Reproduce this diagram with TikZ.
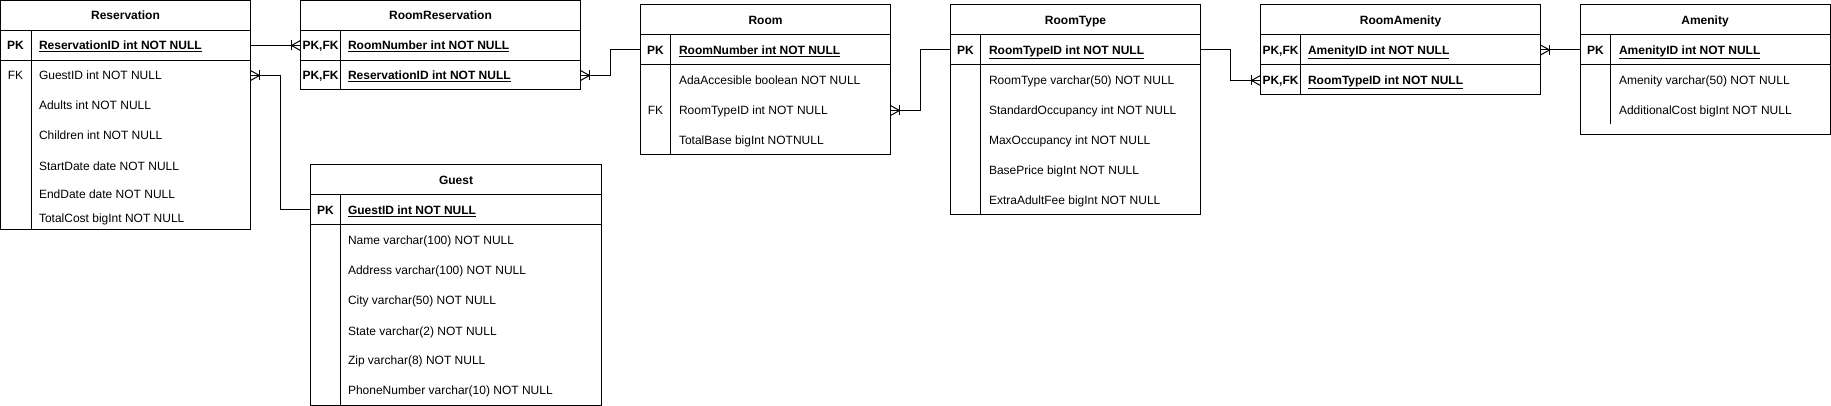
\documentclass[tikz,border=0pt]{standalone}
\usepackage{fontspec}
\setmainfont{Liberation Sans}
\begin{document}
\begin{tikzpicture}[x=1pt,y=-1pt,line width=1pt,
  font=\fontsize{12}{14}\selectfont,
  tbl/.style={draw,rectangle,anchor=north west,inner sep=0pt,outer sep=0pt},
  txt/.style={inner sep=0pt,outer sep=0pt,text height=8.6pt,text depth=0pt},
  hd/.style={txt,font=\fontsize{12}{14}\selectfont\bfseries},
  ky/.style={txt},
  kb/.style={txt,font=\fontsize{12}{14}\selectfont\bfseries},
  fd/.style={txt,anchor=west},
  pk/.style={fd,font=\fontsize{12}{14}\selectfont\bfseries},
  crow/.pic={\draw (0,-5) -- (-9,0) -- (0,5); \draw (-9,-5) -- (-9,5);}
]
\useasboundingbox (0,0) rectangle (1831,406);

% Reservation
\node[tbl,minimum width=250pt,minimum height=229.5pt] (Res) at (0.5,0.5) {};
\draw (0.5,30.5) -- (250.5,30.5); \draw (0.5,60.5) -- (250.5,60.5); \draw (31,30.5) -- (31,230);
\node[hd] (resT) at (125.5,15.5) {Reservation};
\node[kb] (resK1) at (15.5,45.5) {PK};
\node[pk] (resID) at (39,45.5) {\underline{ReservationID int NOT NULL}};
\node[ky] (resK2) at (15.5,75.5) {FK};
\node[fd] (resGuest) at (39,75.5) {GuestID int NOT NULL};
\node[fd] (resA) at (39,105) {Adults int NOT NULL};
\node[fd] (resC) at (39,135.5) {Children int NOT NULL};
\node[fd] (resS) at (39,166) {StartDate date NOT NULL};
\node[fd] (resE) at (39,194) {EndDate date NOT NULL};
\node[fd] (resTC) at (39,218.5) {TotalCost bigInt NOT NULL};

% RoomReservation
\node[tbl,minimum width=280pt,minimum height=89.5pt] (RR) at (300.5,0.5) {};
\draw (300.5,30.5) -- (580.5,30.5); \draw (300.5,60.5) -- (580.5,60.5); \draw (340.5,30.5) -- (340.5,90);
\node[hd] (rrT) at (440.5,15.5) {RoomReservation};
\node[kb] (rrK1) at (320.5,45.5) {PK,FK};
\node[pk] (rrNum) at (348,45.5) {\underline{RoomNumber int NOT NULL}};
\node[kb] (rrK2) at (320.5,75.5) {PK,FK};
\node[pk] (rrRes) at (348,75.5) {\underline{ReservationID int NOT NULL}};

% Guest
\node[tbl,minimum width=291pt,minimum height=240pt] (Guest) at (310.5,165) {};
\draw (310.5,195) -- (601.5,195); \draw (310.5,225) -- (601.5,225); \draw (340.5,195) -- (340.5,405);
\node[hd] (gueT) at (456,180) {Guest};
\node[kb] (gueK1) at (325.5,210) {PK};
\node[pk] (gueID) at (348,210) {\underline{GuestID int NOT NULL}};
\node[fd] (gueN) at (348,240) {Name varchar(100) NOT NULL};
\node[fd] (gueA) at (348,270) {Address varchar(100) NOT NULL};
\node[fd] (gueC) at (348,300) {City varchar(50) NOT NULL};
\node[fd] (gueS) at (348,331) {State varchar(2) NOT NULL};
\node[fd] (gueZ) at (348,360.5) {Zip varchar(8) NOT NULL};
\node[fd] (gueP) at (348,390) {PhoneNumber varchar(10) NOT NULL};

% Room
\node[tbl,minimum width=250pt,minimum height=150pt] (Room) at (640.5,5) {};
\draw (640.5,35) -- (890.5,35); \draw (640.5,65) -- (890.5,65); \draw (670.5,35) -- (670.5,155);
\node[hd] (roomT) at (765.5,20) {Room};
\node[kb] (roomK1) at (655.5,50) {PK};
\node[pk] (roomNum) at (679,50) {\underline{RoomNumber int NOT NULL}};
\node[fd] (roomAda) at (679,80.5) {AdaAccesible boolean NOT NULL};
\node[ky] (roomK2) at (655.5,110.5) {FK};
\node[fd] (roomTT) at (679,110.5) {RoomTypeID int NOT NULL};
\node[fd] (roomTB) at (679,140.5) {TotalBase bigInt NOTNULL};

% RoomType
\node[tbl,minimum width=250pt,minimum height=210pt] (RT) at (950.5,5) {};
\draw (950.5,35) -- (1200.5,35); \draw (950.5,65) -- (1200.5,65); \draw (980.5,35) -- (980.5,215);
\node[hd] (rtT) at (1075.5,20) {RoomType};
\node[kb] (rtK1) at (965.5,50) {PK};
\node[pk] (rtID) at (989,50) {\underline{RoomTypeID int NOT NULL}};
\node[fd] (rtRT) at (989,80.5) {RoomType varchar(50) NOT NULL};
\node[fd] (rtSO) at (989,110.5) {StandardOccupancy int NOT NULL};
\node[fd] (rtMO) at (989,140.5) {MaxOccupancy int NOT NULL};
\node[fd] (rtBP) at (989,170.5) {BasePrice bigInt NOT NULL};
\node[fd] (rtEA) at (989,200.5) {ExtraAdultFee bigInt NOT NULL};

% RoomAmenity
\node[tbl,minimum width=280pt,minimum height=90pt] (RA) at (1260.5,5) {};
\draw (1260.5,35) -- (1540.5,35); \draw (1260.5,65) -- (1540.5,65); \draw (1300.5,35) -- (1300.5,95);
\node[hd] (raT) at (1400.5,20) {RoomAmenity};
\node[kb] (raK1) at (1280.5,50) {PK,FK};
\node[pk] (raAm) at (1308,50) {\underline{AmenityID int NOT NULL}};
\node[kb] (raK2) at (1280.5,80.5) {PK,FK};
\node[pk] (raRT) at (1308,80.5) {\underline{RoomTypeID int NOT NULL}};

% Amenity
\node[tbl,minimum width=249.5pt,minimum height=130pt] (Am) at (1580.5,5) {};
\draw (1580.5,35) -- (1830,35); \draw (1580.5,65) -- (1830,65); \draw (1610.5,35) -- (1610.5,124);
\node[hd] (amT) at (1705,20) {Amenity};
\node[kb] (amK1) at (1595.5,50) {PK};
\node[pk] (amID) at (1619,50) {\underline{AmenityID int NOT NULL}};
\node[fd] (amN) at (1619,80.5) {Amenity varchar(50) NOT NULL};
\node[fd] (amC) at (1619,110.5) {AdditionalCost bigInt NOT NULL};

% Connectors
\draw (Res.east |- resID) -- (RR.west |- rrNum);
\pic at (RR.west |- rrNum) {crow};
\draw (Res.east |- resGuest) -- ++(30,0) |- (Guest.west |- gueID);
\pic[xscale=-1] at (Res.east |- resGuest) {crow};
\draw (RR.east |- rrRes) -- ++(29.5,0) |- (Room.west |- roomNum);
\pic[xscale=-1] at (RR.east |- rrRes) {crow};
\draw (Room.east |- roomTT) -- ++(29.5,0) |- (RT.west |- rtID);
\pic[xscale=-1] at (Room.east |- roomTT) {crow};
\draw (RT.east |- rtID) -- ++(30,0) |- (RA.west |- raRT);
\pic at (RA.west |- raRT) {crow};
\draw (RA.east |- raAm) -- (Am.west |- amID);
\pic[xscale=-1] at (RA.east |- raAm) {crow};
\end{tikzpicture}
\end{document}
